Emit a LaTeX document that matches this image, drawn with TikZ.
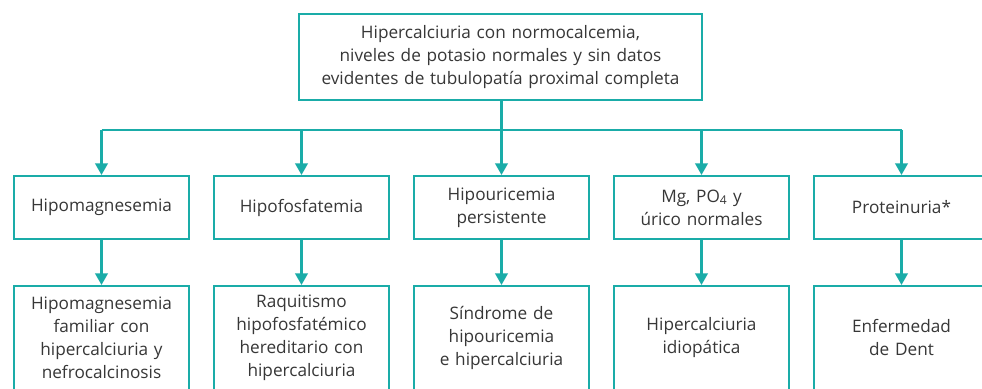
\documentclass[tikz,border=0pt]{standalone}
\usepackage{fontspec}
\setmainfont{Open Sans}
\usetikzlibrary{arrows.meta}
\definecolor{teal1}{RGB}{26,172,168}
\definecolor{txt}{RGB}{55,55,55}
\tikzset{
  box/.style={draw=teal1, line width=2.1pt, minimum width=175pt, text width=172pt,
    align=center, inner sep=0pt, text=txt, font=\fontsize{17.2pt}{23pt}\selectfont},
  toprow/.style={box, minimum height=63pt},
  botrow/.style={box, minimum height=104pt},
  conn/.style={draw=teal1, line width=2.1pt},
  arr/.style={conn, -{Triangle[width=12.5pt,length=11.5pt]}},
}
\begin{document}
\begin{tikzpicture}[x=1pt,y=1pt]
\clip (0,0) rectangle (982,388);
\fill[white] (0,0) rectangle (982,388);
\node[box, minimum width=403pt, text width=395pt, minimum height=86pt] (top) at (500.5,331)
  {Hipercalciuria con normocalcemia,\\niveles de potasio normales y sin datos\\evidentes de tubulopatía proximal completa};
\node[toprow] (a1) at (101.5,180.5) {Hipomagnesemia};
\node[toprow] (a2) at (301.5,180.5) {Hipofosfatemia};
\node[toprow] (a3) at (501.5,180.5) {Hipouricemia\\persistente};
\node[toprow] (a4) at (701.5,180.5) {Mg, PO\textsubscript{4} y\\úrico normales};
\node[toprow] (a5) at (901.5,180.5) {Proteinuria*};
\node[botrow] (b1) at (101.5,50) {Hipomagnesemia\\familiar con\\hipercalciuria y\\nefrocalcinosis};
\node[botrow] (b2) at (301.5,50) {Raquitismo\\hipofosfatémico\\hereditario con\\hipercalciuria};
\node[botrow] (b3) at (501.5,50) {Síndrome de\\hipouricemia\\e hipercalciuria};
\node[botrow] (b4) at (701.5,50) {Hipercalciuria\\idiopática};
\node[botrow] (b5) at (901.5,50) {Enfermedad\\de Dent};
\coordinate (bus) at (501.5,258);
\draw[conn] (top.south -| bus) -- (bus);
\draw[conn] (a1.north |- bus) -- (a5.north |- bus);
\foreach \i in {1,...,5}{
  \draw[arr] (a\i.north |- bus) -- (a\i.north);
  \draw[arr] (a\i.south) -- (b\i.north);
}
\end{tikzpicture}
\end{document}
